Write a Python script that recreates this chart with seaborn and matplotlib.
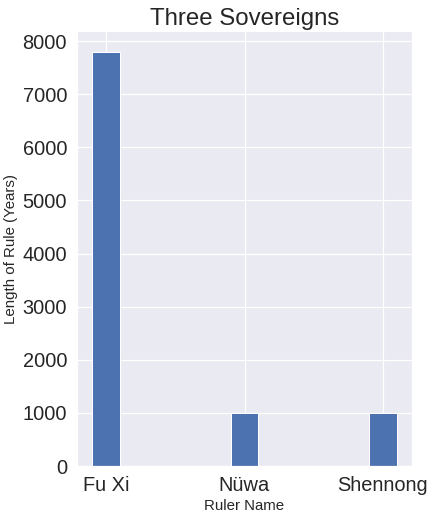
import matplotlib
matplotlib.use("Agg")
import matplotlib.pyplot as plt
import seaborn as sns
import pandas as pd

rulers = ["Fu Xi", "Nüwa", "Shennong"]
years = [7800, 1000, 1000]

sns.set_theme(style="darkgrid")
plt.rcParams['font.family'] = ['Liberation Sans', 'DejaVu Sans']

df = pd.DataFrame({"Ruler Name": rulers, "Length of Rule (Years)": years})

fig = plt.figure(figsize=(435/72, 517/72), dpi=72)
ax = fig.add_axes([77/435, 1-466/517, (412-77)/435, (466-31)/517])
sns.barplot(data=df, x="Ruler Name", y="Length of Rule (Years)", color="#4c72b0",
            saturation=1, width=0.2, ax=ax)
ax.set_xlim(-0.21, 2.21)
ax.set_ylim(0, 7800*1.05)
ax.grid(True, axis="both", color="white", linewidth=1.2)
ax.set_axisbelow(True)
ax.tick_params(labelsize=20, pad=4)
ax.set_xlabel("Ruler Name", fontsize=15)
ax.set_ylabel("Length of Rule (Years)", fontsize=15)
ax.set_title("Three Sovereigns", fontsize=24)
fig.savefig("out.png", dpi=72)
